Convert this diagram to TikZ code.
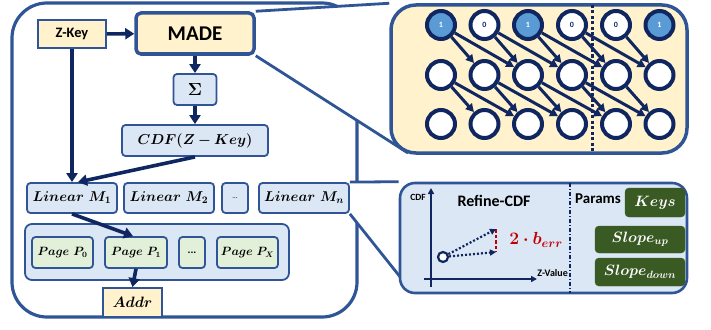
\RequirePackage{fix-cm}
\documentclass[tikz,border=0pt]{standalone}
\usepackage{bm}
\usepackage{fontspec}
\newfontfamily\carl{Carlito}
\usetikzlibrary{arrows.meta,backgrounds}
\definecolor{bord}{HTML}{2F5597}
\definecolor{arrnavy}{HTML}{0F2660}
\definecolor{cream}{HTML}{FFF2CC}
\definecolor{lblue}{HTML}{DCE7F5}
\definecolor{lgreen}{HTML}{E2F0D9}
\definecolor{dgreen}{HTML}{3A5A24}
\definecolor{cblue}{HTML}{5B9BD5}
\definecolor{dred}{HTML}{C00000}
\begin{document}
\begin{tikzpicture}[x=1pt,y=-1pt]
\useasboundingbox (0,0) rectangle (711,329);
\tikzset{
 bx/.style={draw=bord, line width=1.8pt, inner sep=0pt, rounded corners=3.5pt},
 lb/.style={bx, fill=lblue},
 lin/.style={lb, minimum width=90pt, minimum height=30pt},
 pg/.style={bx, fill=lgreen, minimum height=31pt},
 gb/.style={draw=dgreen, fill=dgreen, rounded corners=4pt, inner sep=0pt, text=white},
 arr/.style={-{Triangle[length=9pt,width=11pt]}, draw=arrnavy, line width=3.6pt},
 nn/.style={circle, draw=arrnavy, line width=4pt, minimum size=28pt, inner sep=0pt, fill=white},
 na/.style={-{Triangle[length=8pt,width=8.5pt]}, draw=arrnavy, line width=3pt},
 axis/.style={-{Triangle[length=6pt,width=6pt]}, draw=arrnavy, line width=2.2pt},
 dar/.style={-{Triangle[length=6pt,width=6pt]}, draw=arrnavy, line width=2.2pt, dash pattern=on 2pt off 2pt},
 zl/.style={draw=bord, line width=2.8pt},
}
% left part
\node[bx, fill=cream, rounded corners=0pt, minimum width=68pt, minimum height=28pt] (zkey) at (72,34) {\carl\bfseries\fontsize{14.4}{14.4}\selectfont Z-Key};
\node[bx, fill=cream, line width=3.5pt, rounded corners=5pt, minimum width=118pt, minimum height=41pt] (made) at (195,33.5) {\carl\bfseries\fontsize{21}{21}\selectfont MADE};
\node[lb, minimum width=43pt, minimum height=31pt] (sig) at (195,89.5) {\fontsize{17.5}{17.5}\selectfont$\bm{\Sigma}$};
\node[lb, minimum width=146pt, minimum height=31pt] (cdf) at (195,140.5) {\fontsize{14.4}{14.4}\selectfont$\bm{CDF(Z-Key)}$};
\node[lin] (m1) at (72,198) {\fontsize{14.2}{14.2}\selectfont$\bm{Linear\ M_1}$};
\node[lin] (m2) at (169,198) {\fontsize{14.2}{14.2}\selectfont$\bm{Linear\ M_2}$};
\node[lb, minimum width=26pt, minimum height=30pt] (mdots) at (235,198) {\carl\fontsize{7}{7}\selectfont ...};
\node[lin] (mn) at (304,198) {\fontsize{14.2}{14.2}\selectfont$\bm{Linear\ M_n}$};
\node[lb, rounded corners=7pt, minimum width=264pt, minimum height=56pt] (pages) at (157,252) {};
\node[pg, minimum width=61pt] (p0) at (62.5,252.5) {\fontsize{12}{12}\selectfont$\bm{Page\ P_0}$};
\node[pg, minimum width=62pt] (p1) at (136,252.5) {\fontsize{12}{12}\selectfont$\bm{Page\ P_1}$};
\node[pg, minimum width=26pt] (pdots) at (192,252.5) {\carl\bfseries\fontsize{11}{11}\selectfont ...};
\node[pg, minimum width=61pt] (px) at (247.5,252.5) {\fontsize{12}{12}\selectfont$\bm{Page\ P_X}$};
\node[bx, fill=cream, rounded corners=0pt, minimum width=59pt, minimum height=29pt] (addr) at (132.5,302.5) {\fontsize{15}{15}\selectfont$\bm{Addr}$};
\draw[arr] (zkey) -- (made);
\draw[arr] (made) -- (sig);
\draw[arr] (sig) -- (cdf);
\draw[arr] (zkey.south) -- (zkey.south |- m1.north);
\draw[arr] (cdf.south) -- ([xshift=6pt]m1.north);
\draw[arr] (m1.south) -- ([xshift=-3pt]p1.north);
\draw[arr] (p1.south) -- (addr.north);
% zoom boxes
\node[draw=bord, fill=cream, line width=3.5pt, rounded corners=25pt, minimum width=296pt, minimum height=148pt] (mz) at (539,79) {};
\node[draw=bord, fill=lblue, line width=2.6pt, rounded corners=15pt, minimum width=287pt, minimum height=110pt] (rz) at (543.5,238) {};
\coordinate (mzb) at (408,153);
\coordinate (rzb) at (401,278);
\begin{scope}[on background layer]
\draw[draw=bord, line width=3.2pt, rounded corners=35pt] (12,3) rectangle (357,317);
\fill[white] (made.north east) -- (mz.north west) -- (mzb) -- (made.south east) -- cycle;
\fill[white] (mn.north east) -- (rz.north west) -- (rzb) -- (mn.south east) -- cycle;
\draw[zl] (made.north east) -- (mz.north west);
\draw[zl] (made.south east) -- (mzb);
\draw[zl] (mn.north east) -- (rz.north west);
\draw[zl] (mn.south east) -- (rzb);
\end{scope}
% MADE network
\coordinate (dt) at (592,5);
\coordinate (db) at (592,153);
\draw[arrnavy, line width=3pt, dash pattern=on 3pt off 2.5pt] (dt) -- (db);
\foreach \i/\x in {1/441,2/484.5,3/528,4/572,5/616,6/659.5}{
  \node[nn] (b\i) at (\x,75) {};
  \node[nn] (c\i) at (\x,124) {};
}
\tikzset{lab/.style={font=\carl\bfseries\fontsize{8}{8}\selectfont}}
\node[nn, fill=cblue, text=white, lab] (a1) at (441,25) {1};
\node[nn, text=arrnavy, lab] (a2) at (484.5,25) {0};
\node[nn, fill=cblue, text=white, lab] (a3) at (528,25) {1};
\node[nn, text=arrnavy, lab] (a4) at (572,25) {0};
\node[nn, text=arrnavy, lab] (a5) at (616,25) {0};
\node[nn, fill=cblue, text=white, lab] (a6) at (659.5,25) {1};
\foreach \i in {1,...,5}{
  \pgfmathtruncatemacro\j{\i+1}
  \draw[na] (a\i) -- (b\j);
  \draw[na] (b\i) -- (c\j);
}
\foreach \i in {1,...,4}{
  \pgfmathtruncatemacro\k{\i+2}
  \draw[na] (a\i) -- (b\k);
  \draw[na] (b\i) -- (c\k);
}
% refine box
\coordinate (yb) at (431,287);
\coordinate (yt) at (431,188);
\coordinate (xl) at (424,279);
\coordinate (xr) at (537,279);
\draw[axis] (yb) -- (yt);
\draw[axis] (xl) -- (xr);
\node[circle, draw=arrnavy, fill=white, line width=2.2pt, minimum size=10pt, inner sep=0pt] (pt) at (443,257) {};
\coordinate (hi) at (496,229);
\coordinate (lo) at (496,252);
\draw[dred, line width=2.2pt, dash pattern=on 3.5pt off 2pt] (hi) -- (lo);
\draw[dar] (pt) -- (hi);
\draw[dar] (pt) -- (lo);
\node[text=dred] (berr) at (536,240) {\fontsize{17.5}{17.5}\selectfont$\bm{2\cdot b_{err}}$};
\node (cdfl) at (418,197) {\carl\bfseries\fontsize{9.5}{9.5}\selectfont CDF};
\node (ref) at (494,201) {\carl\bfseries\fontsize{16}{16}\selectfont Refine-CDF};
\node[anchor=east, inner sep=0pt] (zv) at (568,273) {\carl\bfseries\fontsize{10}{10}\selectfont Z-Value};
\coordinate (st) at (570,183);
\coordinate (sb) at (570,293);
\draw[arrnavy, line width=1.5pt, dash pattern=on 4pt off 2pt on 1pt off 2pt] (st) -- (sb);
\node (par) at (598,199) {\carl\bfseries\fontsize{15}{15}\selectfont Params};
\node[gb, minimum width=60pt, minimum height=29pt] (keys) at (655,202.5) {\fontsize{15}{15}\selectfont$\bm{Keys}$};
\node[gb, minimum width=90pt, minimum height=27pt] (sup) at (640,239.5) {\fontsize{15}{15}\selectfont$\bm{Slope_{up}}$};
\node[gb, minimum width=90pt, minimum height=28pt] (sdown) at (640,272) {\fontsize{15}{15}\selectfont$\bm{Slope_{down}}$};
\end{tikzpicture}
\end{document}
